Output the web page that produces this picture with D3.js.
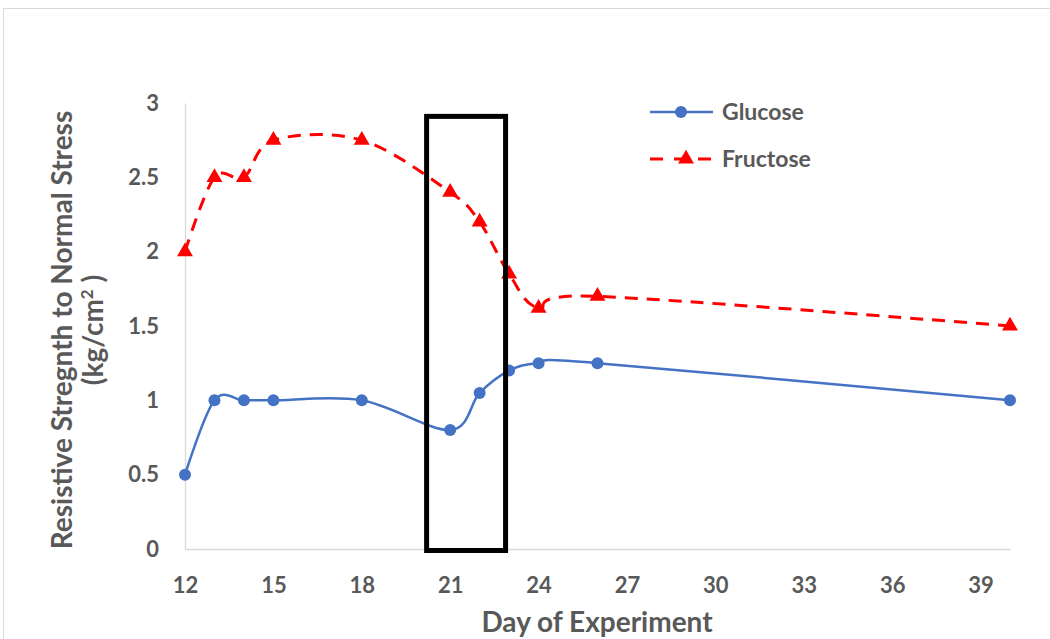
<!DOCTYPE html>
<html>
<head>
<meta charset="utf-8">
<script src="https://cdn.jsdelivr.net/npm/d3@7"></script>
<style>
  html, body { margin: 0; padding: 0; background: #fff; }
  svg { display: block; }
  text { font-family: Lato, "Open Sans", sans-serif; font-weight: bold; fill: #595959; }
</style>
</head>
<body>
<svg id="chart" width="1050" height="639"></svg>
<script>
// Day of experiment for each measurement
const days = [12, 13, 14, 15, 18, 21, 22, 23, 24, 26, 40];
// Resistive strength to normal stress (kg/cm²)
const glucose  = [0.5, 1.0, 1.0, 1.0, 1.0, 0.8, 1.05, 1.2, 1.25, 1.25, 1.0];
const fructose = [2.0, 2.5, 2.5, 2.75, 2.75, 2.4, 2.2, 1.85, 1.62, 1.7, 1.5];
// Axis ticks
const xTicks = [12, 15, 18, 21, 24, 27, 30, 33, 36, 39];
const yTicks = [0, 0.5, 1, 1.5, 2, 2.5, 3];
// Highlighted window (days / strength)
const highlightDays = [20.2, 22.88];
const highlightStrength = [-0.01, 2.91];

const svg = d3.select("#chart");

// Chart area frame
svg.append("rect")
  .attr("x", 3.5).attr("y", 8.5)
  .attr("width", 1100).attr("height", 700)
  .attr("fill", "#fff").attr("stroke", "#d9d9d9").attr("stroke-width", 1);

const x = d3.scaleLinear().domain([12, 40]).range([185, 1010]);
const y = d3.scaleLinear().domain([0, 3]).range([549, 103]);

// Axes
const xAxis = d3.axisBottom(x).tickValues(xTicks).tickSize(0).tickPadding(0)
  .tickFormat(d3.format("d"));
const gx = svg.append("g").attr("transform", `translate(0,${y(0)})`).call(xAxis);
gx.select(".domain").attr("stroke", "#d9d9d9").attr("stroke-width", 1.3);
gx.selectAll("text").style("font-size", "22px").attr("y", 28).attr("dy", "0.71em");

const yAxis = d3.axisLeft(y).tickValues(yTicks).tickSize(0).tickPadding(26)
  .tickFormat(d => d3.format("")(d));
const gy = svg.append("g").attr("transform", `translate(${x(12)},0)`).call(yAxis);
gy.select(".domain").attr("stroke", "#d9d9d9").attr("stroke-width", 1.3);
gy.selectAll("text").style("font-size", "22px");

// Axis titles
svg.append("text")
  .attr("x", 597).attr("y", 622)
  .attr("dy", "0.35em")
  .attr("text-anchor", "middle")
  .style("font-size", "28px")
  .text("Day of Experiment");

const yTitle = svg.append("g").attr("transform", "translate(62,330) rotate(-90)");
yTitle.append("text")
  .attr("x", 0).attr("y", 0)
  .attr("dy", "0.35em")
  .attr("text-anchor", "middle")
  .style("font-size", "28px")
  .text("Resistive Stregnth to Normal Stress");
const l2 = yTitle.append("text")
  .attr("x", 0).attr("y", 31)
  .attr("dy", "0.35em")
  .attr("text-anchor", "middle")
  .style("font-size", "28px");
l2.append("tspan").text("(kg/cm");
l2.append("tspan").attr("dy", -10).style("font-size", "17px").text("2");
l2.append("tspan").attr("dy", 10).text(" )");

// Series lines
const curve = d3.curveCardinal.tension(0);
const line = vals => d3.line()
  .x((d, i) => x(days[i]))
  .y(d => y(d))
  .curve(curve)(vals);

svg.append("path")
  .attr("d", line(glucose))
  .attr("fill", "none")
  .attr("stroke", "#4472c4")
  .attr("stroke-width", 2.5);

svg.append("path")
  .attr("d", line(fructose))
  .attr("fill", "none")
  .attr("stroke", "#ff0000")
  .attr("stroke-width", 3)
  .attr("stroke-dasharray", "13,9");

// Markers
svg.append("g").selectAll("circle")
  .data(glucose).join("circle")
  .attr("cx", (d, i) => x(days[i]))
  .attr("cy", d => y(d))
  .attr("r", 6)
  .attr("fill", "#4472c4");

const tri = d3.symbol().type(d3.symbolTriangle).size(110);
svg.append("g").selectAll("path")
  .data(fructose).join("path")
  .attr("transform", (d, i) => `translate(${x(days[i])},${y(d)})`)
  .attr("d", tri)
  .attr("fill", "#ff0000");

// Highlight box
svg.append("rect")
  .attr("x", x(highlightDays[0]))
  .attr("y", y(highlightStrength[1]))
  .attr("width", x(highlightDays[1]) - x(highlightDays[0]))
  .attr("height", y(highlightStrength[0]) - y(highlightStrength[1]))
  .attr("fill", "none")
  .attr("stroke", "#000")
  .attr("stroke-width", 5);

// Legend
const legend = svg.append("g");
legend.append("line")
  .attr("x1", 650).attr("x2", 713).attr("y1", 112).attr("y2", 112)
  .attr("stroke", "#4472c4").attr("stroke-width", 2.5);
legend.append("circle").attr("cx", 681).attr("cy", 112).attr("r", 6).attr("fill", "#4472c4");
legend.append("text").attr("x", 722).attr("y", 112).attr("dy", "0.35em")
  .style("font-size", "23px").text("Glucose");

legend.append("line")
  .attr("x1", 650).attr("x2", 713).attr("y1", 159).attr("y2", 159)
  .attr("stroke", "#ff0000").attr("stroke-width", 3)
  .attr("stroke-dasharray", "13,11");
legend.append("path")
  .attr("transform", "translate(686,159)")
  .attr("d", tri).attr("fill", "#ff0000");
legend.append("text").attr("x", 722).attr("y", 159).attr("dy", "0.35em")
  .style("font-size", "23px").text("Fructose");
</script>
</body>
</html>
